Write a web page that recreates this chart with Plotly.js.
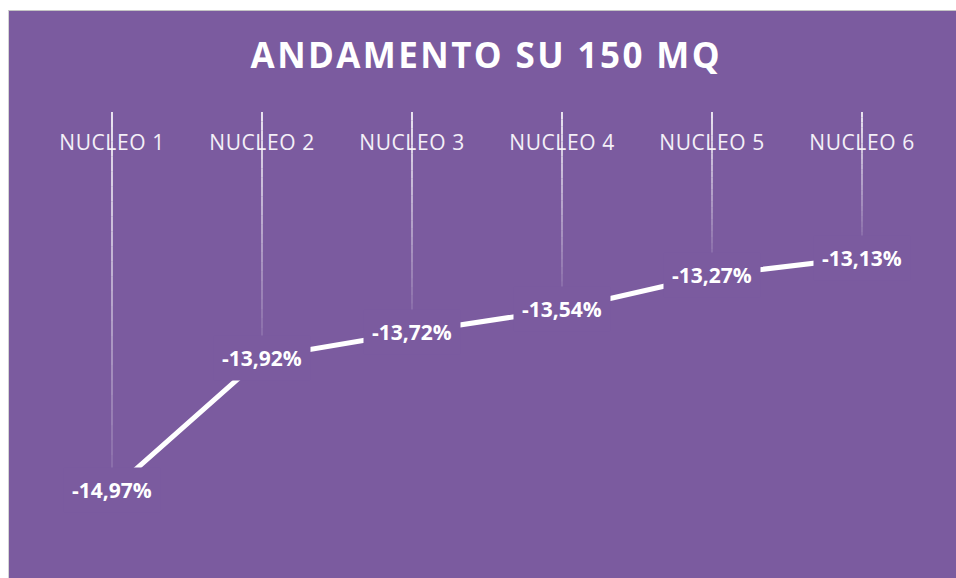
<!DOCTYPE html>
<html>
<head>
<meta charset="utf-8">
<script src="https://cdn.plot.ly/plotly-3.0.1.min.js"></script>
<style>
  html, body { margin:0; padding:0; background:#ffffff; width:956px; height:578px; overflow:hidden; }
  #chart { position:absolute; left:8px; top:10px; width:947px; height:567px;
           border-top:1px solid #c4c4c4; border-left:1px solid #d4d4d4; }
  #chart .gtitle { letter-spacing: 2.4px; }
  #chart .xtick text { letter-spacing: 0.6px; }
</style>
</head>
<body>
<div id="chart"></div>
<script>
// ---- data ----
const categories = ["NUCLEO 1", "NUCLEO 2", "NUCLEO 3", "NUCLEO 4", "NUCLEO 5", "NUCLEO 6"];
const values = [-14.97, -13.92, -13.72, -13.54, -13.27, -13.13];
const chartTitle = "ANDAMENTO SU 150 MQ";

// ---- styling ----
const PURPLE = "#7b5b9f";
const axisTop = -11.98;
const axisBottom = -15.527;

const labelText = v => v.toFixed(2).replace(".", ",") + "%";

// drop lines (fading from the category axis down to near the point)
const shapes = [];
const N = 24;
categories.forEach((c, i) => {
  const yEnd = values[i] + 0.16;
  for (let k = 0; k < N; k++) {
    const a = axisTop + (yEnd - axisTop) * k / N;
    const b = axisTop + (yEnd - axisTop) * (k + 1) / N;
    const op = 0.97 - 0.82 * (k / (N - 1));
    shapes.push({
      type: "line", xref: "x", yref: "y", x0: c, x1: c, y0: a, y1: b,
      line: { color: "rgba(255,255,255," + op.toFixed(3) + ")", width: 1.7 },
      layer: "above"
    });
  }
});

const annotations = categories.map((c, i) => ({
  x: c, y: values[i], xref: "x", yref: "y",
  text: labelText(values[i]), showarrow: false,
  xanchor: "center", yanchor: "middle",
  bgcolor: PURPLE, borderpad: 8,
  font: { family: "Open Sans", size: 21, color: "#ffffff", weight: 700 }
}));

const trace = {
  type: "scatter", mode: "lines",
  x: categories, y: values,
  line: { color: "#ffffff", width: 5 },
  hoverinfo: "skip"
};

const layout = {
  width: 947, height: 567,
  paper_bgcolor: PURPLE, plot_bgcolor: PURPLE,
  margin: { l: 28, r: 19, t: 101, b: 17, pad: 0 },
  showlegend: false,
  title: {
    text: "<b>" + chartTitle + "</b>",
    xref: "container", yref: "container",
    x: 0.504, y: 0.9215, xanchor: "center", yanchor: "middle",
    font: { family: "Open Sans", size: 35, color: "#ffffff" }
  },
  xaxis: {
    type: "category", range: [-0.5, 5.5], side: "top",
    showgrid: false, zeroline: false, showline: false, ticks: "",
    ticklabelposition: "inside", ticklabelstandoff: 20,
    tickfont: { family: "Open Sans", size: 21, color: "#f4f0f8" },
    fixedrange: true
  },
  yaxis: {
    range: [axisBottom, axisTop], visible: false, showgrid: false, zeroline: false,
    fixedrange: true
  },
  shapes: shapes,
  annotations: annotations
};

Plotly.newPlot("chart", [trace], layout, { displayModeBar: false, staticPlot: true });
</script>
</body>
</html>
